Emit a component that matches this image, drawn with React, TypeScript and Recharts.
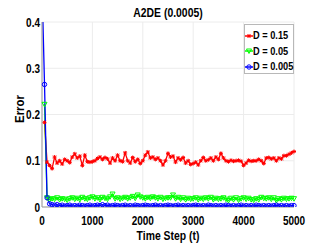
import { CartesianGrid, Label, Legend, Line, LineChart, XAxis, YAxis } from "recharts";

// time steps 0..5000, every 50
const steps = Array.from({ length: 101 }, (_, i) => i * 50);

// values start at t = 50 (index 1); blue also has a t = 0 point above the axis
const redValues = [
  null,
  0.183, 0.097, 0.09, 0.083, 0.108, 0.095, 0.1, 0.093, 0.103, 0.1,
  0.096, 0.108, 0.115, 0.106, 0.11, 0.09, 0.112, 0.098, 0.097, 0.098,
  0.1, 0.105, 0.108, 0.103, 0.107, 0.104, 0.095, 0.106, 0.1, 0.112,
  0.1, 0.098, 0.117, 0.1, 0.095, 0.107, 0.098, 0.103, 0.094, 0.1,
  0.112, 0.119, 0.106, 0.108, 0.103, 0.106, 0.1, 0.091, 0.1, 0.116,
  0.108, 0.11, 0.097, 0.106, 0.102, 0.107, 0.095, 0.1, 0.092, 0.094,
  0.097, 0.091, 0.1, 0.107, 0.1, 0.102, 0.106, 0.1, 0.108, 0.103,
  0.116, 0.106, 0.1, 0.098, 0.101, 0.099, 0.1, 0.101, 0.099, 0.09,
  0.095, 0.101, 0.099, 0.1, 0.1, 0.103, 0.1, 0.094, 0.106, 0.107,
  0.104, 0.106, 0.1, 0.106, 0.104, 0.111, 0.111, 0.114, 0.117, 0.12,
];

const greenValues = [
  null,
  0.222, 0.02, 0.016, 0.018, 0.017, 0.02, 0.016, 0.018, 0.017, 0.015,
  0.018, 0.02, 0.017, 0.019, 0.016, 0.021, 0.018, 0.017, 0.02, 0.022,
  0.018, 0.02, 0.016, 0.021, 0.019, 0.017, 0.022, 0.028, 0.018, 0.02,
  0.017, 0.019, 0.021, 0.018, 0.02, 0.023, 0.019, 0.026, 0.022, 0.02,
  0.018, 0.021, 0.019, 0.022, 0.02, 0.018, 0.021, 0.017, 0.019, 0.02,
  0.02, 0.026, 0.018, 0.021, 0.017, 0.02, 0.016, 0.019, 0.017, 0.018,
  0.02, 0.016, 0.019, 0.017, 0.02, 0.018, 0.021, 0.016, 0.019, 0.017,
  0.018, 0.02, 0.017, 0.014, 0.019, 0.016, 0.02, 0.015, 0.018, 0.02,
  0.017, 0.019, 0.016, 0.015, 0.018, 0.016, 0.021, 0.019, 0.018, 0.02,
  0.017, 0.02, 0.014, 0.018, 0.016, 0.019, 0.017, 0.018, 0.019, 0.018,
];

const blueValues = [
  0.48,
  0.265, 0.02, 0.007, 0.005, 0.004, 0.005, 0.003, 0.004, 0.002, 0.003,
  0.004, 0.002, 0.003, 0.002, 0.004, 0.003, 0.002, 0.003, 0.004, 0.002,
  0.003, 0.004, 0.003, 0.005, 0.003, 0.004, 0.002, 0.003, 0.004, 0.003,
  0.002, 0.003, 0.004, 0.002, 0.003, 0.002, 0.004, 0.003, 0.002, 0.003,
  0.004, 0.003, 0.002, 0.003, 0.004, 0.002, 0.003, 0.002, 0.003, 0.004,
  0.003, 0.002, 0.003, 0.004, 0.002, 0.003, 0.002, 0.003, 0.002, 0.003,
  0.004, 0.003, 0.002, 0.003, 0.002, 0.004, 0.003, 0.002, 0.003, 0.002,
  0.003, 0.002, 0.004, 0.003, 0.002, 0.003, 0.002, 0.003, 0.004, 0.002,
  0.003, 0.002, 0.003, 0.002, 0.004, 0.003, 0.002, 0.003, 0.002, 0.003,
  0.002, 0.003, 0.004, 0.002, 0.003, 0.002, 0.003, 0.002, 0.003, 0.003,
];

const seriesNames = ["D = 0.15", "D = 0.05", "D = 0.005"];
const xTicks = [0, 1000, 2000, 3000, 4000, 5000];
const yTicks = [0, 0.1, 0.2, 0.3, 0.4];

const RED = "#ff0000";
const GREEN = "#00ff00";
const BLUE = "#0000ff";
const FONT = "'Liberation Sans', Arial, sans-serif";

const data = steps.map((t, i) => ({
  t,
  red: redValues[i],
  green: greenValues[i],
  blue: blueValues[i],
}));

// bold text squeezed horizontally, like the narrow Helvetica MATLAB uses
function NarrowText({ x, y, text, anchor = "middle", size = 13, sx = 0.8, rotate = 0 }: any) {
  return (
    <g transform={`translate(${x},${y}) rotate(${rotate})`}>
      <text
        transform={`scale(${sx},1)`}
        textAnchor={anchor}
        fontFamily={FONT}
        fontWeight="bold"
        fontSize={size}
        fill="#000"
      >
        {text}
      </text>
    </g>
  );
}

const XTick = (props: any) => (
  <NarrowText x={props.x} y={props.y + 17.5} size={12.5} text={String(props.payload.value)} />
);

const YTick = (props: any) => (
  <NarrowText
    x={props.x - 2}
    y={props.y + 4.5}
    anchor="end"
    size={12.5}
    text={props.payload.value === 0 ? "0" : String(props.payload.value)}
  />
);

function marker(kind: string, cx: number, cy: number, key?: string) {
  if (kind === "red") {
    return (
      <g key={key} stroke={RED} strokeWidth={1}>
        <line x1={cx - 2} y1={cy} x2={cx + 2} y2={cy} />
        <line x1={cx} y1={cy - 2} x2={cx} y2={cy + 2} />
        <line x1={cx - 1.5} y1={cy - 1.5} x2={cx + 1.5} y2={cy + 1.5} />
        <line x1={cx - 1.5} y1={cy + 1.5} x2={cx + 1.5} y2={cy - 1.5} />
      </g>
    );
  }
  if (kind === "green") {
    return (
      <path
        key={key}
        d={`M${cx - 2.5},${cy - 2} L${cx + 2.5},${cy - 2} L${cx},${cy + 2.5} Z`}
        fill="none"
        stroke={GREEN}
        strokeWidth={1}
      />
    );
  }
  return <circle key={key} cx={cx} cy={cy} r={2.2} fill="none" stroke={BLUE} strokeWidth={1} />;
}

const makeDot = (kind: string) => (props: any) => {
  const { cx, cy, key, index } = props;
  if (cx == null || cy == null || props.value == null) return <g key={key ?? index} />;
  return marker(kind, cx, cy, key ?? `${kind}-${index}`);
};

function LegendBox() {
  const items = [
    { kind: "red", color: RED, name: seriesNames[0] },
    { kind: "green", color: GREEN, name: seriesNames[1] },
    { kind: "blue", color: BLUE, name: seriesNames[2] },
  ];
  return (
    <div
      style={{
        border: "1px solid #b8b8b8",
        background: "#fff",
        width: 50,
        height: 50,
        boxSizing: "border-box",
        padding: "3px 0 0 0",
        fontFamily: FONT,
        fontWeight: "bold",
        fontSize: 10.5,
        lineHeight: "15.5px",
        color: "#000",
      }}
    >
      {items.map((it) => (
        <div key={it.kind} style={{ display: "flex", alignItems: "center", whiteSpace: "nowrap" }}>
          <svg width={8} height={10} style={{ flex: "none" }}>
            <line x1={0} y1={5} x2={8} y2={5} stroke={it.color} strokeWidth={1.5} />
            {marker(it.kind, 4, 5)}
          </svg>
          <span style={{ display: "inline-block", transform: "scaleX(0.88)", transformOrigin: "left center" }}>
            {it.name}
          </span>
        </div>
      ))}
    </div>
  );
}

export default function App() {
  return (
    <div
      style={{
        position: "absolute",
        left: 0,
        top: 0,
        width: 327,
        height: 245,
        background: "#fff",
        overflow: "hidden",
      }}
    >
      <div
        style={{
          position: "absolute",
          top: 6,
          left: 0,
          width: 336,
          textAlign: "center",
          fontFamily: FONT,
          fontWeight: "bold",
          fontSize: 13,
          lineHeight: "13px",
          color: "#000",
          transform: "scaleX(0.8)",
          zIndex: 2,
        }}
      >
        A2DE (0.0005)
      </div>
      <LineChart
        width={327}
        height={245}
        data={data}
        margin={{ top: 22, right: 33, bottom: 20, left: 12 }}
      >
        <CartesianGrid stroke="#ececec" strokeWidth={1} />
        <XAxis
          dataKey="t"
          type="number"
          domain={[0, 5000]}
          ticks={xTicks}
          height={18}
          tickLine={false}
          tickSize={0}
          tickMargin={0}
          axisLine={{ stroke: "#999" }}
          tick={XTick}
        >
          <Label
            content={(p: any) => (
              <NarrowText x={p.viewBox.x + p.viewBox.width / 2} y={240} text="Time Step (t)" />
            )}
          />
        </XAxis>
        <XAxis
          xAxisId="top"
          orientation="top"
          dataKey="t"
          type="number"
          domain={[0, 5000]}
          height={0}
          tick={false}
          tickLine={false}
          axisLine={{ stroke: "#b8b8b8" }}
        />
        <YAxis
          type="number"
          domain={[0, 0.4]}
          ticks={yTicks}
          allowDataOverflow
          width={30}
          tickLine={false}
          tickSize={0}
          tickMargin={0}
          axisLine={{ stroke: "#999" }}
          tick={YTick}
        >
          <Label
            content={() => <NarrowText x={23.5} y={109} rotate={-90} size={12} sx={0.95} text="Error" />}
          />
        </YAxis>
        <YAxis
          yAxisId="right"
          orientation="right"
          domain={[0, 0.4]}
          width={0}
          tick={false}
          tickLine={false}
          axisLine={{ stroke: "#b8b8b8" }}
        />
        <Legend
          verticalAlign="middle"
          align="center"
          layout="horizontal"
          content={() => <LegendBox />}
          wrapperStyle={{ position: "absolute", top: 24, left: 244, width: 50, height: 50 }}
        />
        <Line
          dataKey="red"
          name={seriesNames[0]}
          stroke={RED}
          strokeWidth={1.3}
          dot={makeDot("red")}
          activeDot={false}
          isAnimationActive={false}
        />
        <Line
          dataKey="green"
          name={seriesNames[1]}
          stroke={GREEN}
          strokeWidth={1.3}
          dot={makeDot("green")}
          activeDot={false}
          isAnimationActive={false}
        />
        <Line
          dataKey="blue"
          name={seriesNames[2]}
          stroke={BLUE}
          strokeWidth={1.3}
          dot={makeDot("blue")}
          activeDot={false}
          isAnimationActive={false}
        />
      </LineChart>
    </div>
  );
}
